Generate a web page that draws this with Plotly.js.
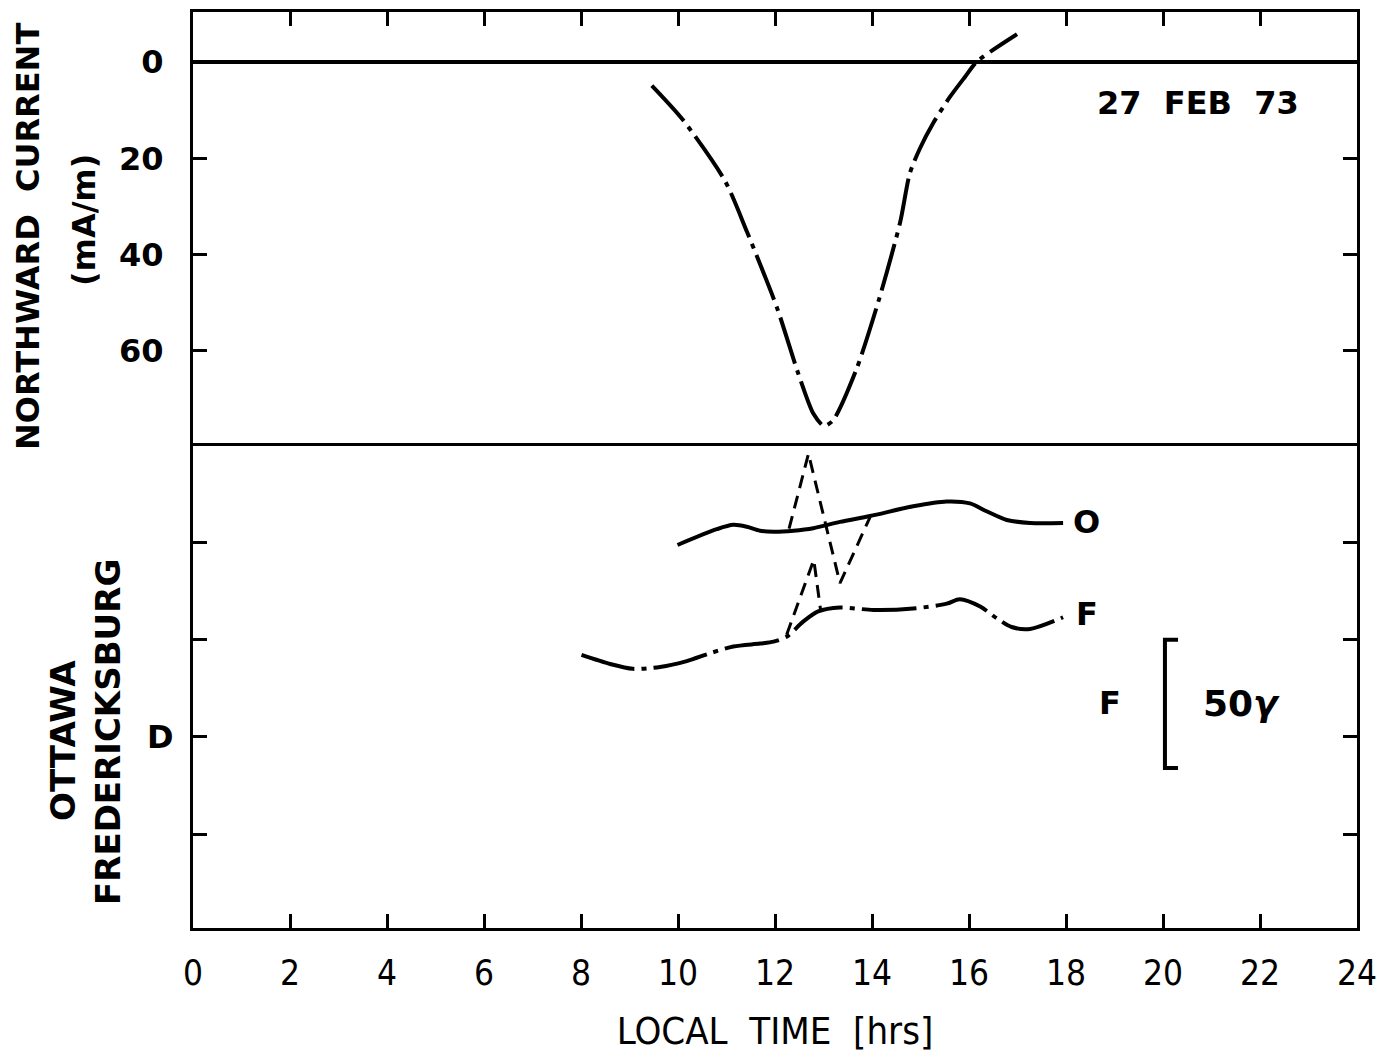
<!DOCTYPE html>
<html>
<head>
<meta charset="utf-8">
<script src="https://cdn.plot.ly/plotly-3.0.1.min.js"></script>
<style>html,body{margin:0;padding:0;background:#fff;}#chart{width:1380px;height:1053px;}</style>
</head>
<body>
<div id="chart"></div>
<script>
// ---- Data ----
// Top panel: northward current (mA/m), local time (hrs)
const currentTime = [9.46, 10.10, 10.97, 11.42, 12.04, 12.48, 12.79, 13.01, 13.20, 13.68, 14.15, 14.58, 14.78, 14.99, 15.26, 15.61, 15.92, 16.16, 16.99];
const currentVal  = [4.9, 12.0, 24.7, 35.2, 51.0, 64.7, 73.0, 75.6, 74.4, 63.8, 49.1, 33.3, 23.1, 17.9, 12.7, 7.2, 3.05, -0.06, -5.8];

// Bottom panel: D component traces (relative units, 1 unit = one tick interval)
const ottawaTime = [9.99, 10.80, 11.14, 11.42, 11.69, 11.97, 12.38, 12.79, 13.34, 13.96, 14.85, 15.54, 16.02, 16.36, 16.78, 17.26, 17.94];
const ottawaD    = [1.973, 2.135, 2.18, 2.16, 2.12, 2.11, 2.12, 2.145, 2.21, 2.27, 2.37, 2.42, 2.40, 2.32, 2.23, 2.20, 2.20];

const fredTime = [8.01, 8.60, 9.07, 9.63, 10.18, 10.66, 11.14, 11.69, 11.97, 12.24, 12.58, 12.89, 13.34, 14.03, 14.85, 15.54, 15.81, 16.23, 16.57, 16.88, 17.26, 17.94];
const fredD    = [0.843, 0.75, 0.70, 0.72, 0.78, 0.86, 0.93, 0.96, 0.98, 1.03, 1.185, 1.29, 1.33, 1.305, 1.32, 1.37, 1.415, 1.34, 1.22, 1.13, 1.11, 1.23];

// Dashed excursions
const ottawaSpikeTime = [12.29, 12.69, 13.34, 13.96];
const ottawaSpikeD    = [2.14, 2.91, 1.58, 2.26];
const fredSpikeTime = [12.24, 12.80, 12.94];
const fredSpikeD    = [1.05, 1.82, 1.305];

// 50 gamma scale bar
const scaleBarX = [20.31, 20.04, 20.04, 20.31];
const scaleBarY = [1.0, 1.0, -0.32, -0.32];

// Axis ticks
const timeTicks = [0, 2, 4, 6, 8, 10, 12, 14, 16, 18, 20, 22, 24];
const currentTicks = [0, 20, 40, 60];
const dTicks = [-1, 0, 1, 2];
const dTickText = ['', 'D', '', ''];

// ---- Styling ----
const FONT = 'DejaVu Sans, Verdana, sans-serif';
const NARROW = 'Liberation Sans Narrow, DejaVu Sans Condensed, Liberation Sans, sans-serif';
const BLACK = '#000';

const traces = [
  {x: currentTime, y: currentVal, xaxis: 'x2', yaxis: 'y2', mode: 'lines',
   line: {color: BLACK, width: 4, shape: 'spline', smoothing: 0.7, dash: '48px,7px,5px,7px'}},
  {x: ottawaTime, y: ottawaD, xaxis: 'x', yaxis: 'y', mode: 'lines',
   line: {color: BLACK, width: 4, shape: 'spline', smoothing: 0.8}},
  {x: fredTime, y: fredD, xaxis: 'x', yaxis: 'y', mode: 'lines',
   line: {color: BLACK, width: 4, shape: 'spline', smoothing: 0.8, dash: '55px,7px,5px,7px'}},
  {x: ottawaSpikeTime, y: ottawaSpikeD, xaxis: 'x', yaxis: 'y', mode: 'lines',
   line: {color: BLACK, width: 3, dash: '13px,8px'}},
  {x: fredSpikeTime, y: fredSpikeD, xaxis: 'x', yaxis: 'y', mode: 'lines',
   line: {color: BLACK, width: 3, dash: '13px,8px'}},
  {x: scaleBarX, y: scaleBarY, xaxis: 'x', yaxis: 'y', mode: 'lines',
   line: {color: BLACK, width: 4}}
];

const SPLIT = 0.5262;
const LBL = {family: FONT, size: 32, color: BLACK, weight: 'bold'};

const layout = {
  width: 1380, height: 1053,
  margin: {l: 193, r: 23, t: 12, b: 125},
  paper_bgcolor: '#fff', plot_bgcolor: '#fff',
  showlegend: false,
  font: {family: FONT, color: BLACK, size: 28},
  xaxis: {
    domain: [0, 1], range: [0, 24], anchor: 'y',
    tickvals: timeTicks, ticktext: timeTicks.map(String),
    ticks: 'inside', ticklen: 14, tickwidth: 3, tickcolor: BLACK,
    showline: true, linewidth: 3, linecolor: BLACK, mirror: true,
    showgrid: false, zeroline: false,
    tickfont: {family: NARROW, size: 35, color: BLACK},
    ticklabelstandoff: 12,
    title: {text: 'LOCAL  TIME  [hrs]', font: {family: NARROW, size: 38, color: BLACK}, standoff: 30}
  },
  xaxis2: {
    domain: [0, 1], range: [0, 24], anchor: 'y2', side: 'top',
    tickvals: timeTicks, showticklabels: false,
    ticks: 'inside', ticklen: 14, tickwidth: 3, tickcolor: BLACK,
    showline: true, linewidth: 3, linecolor: BLACK, mirror: false,
    showgrid: false, zeroline: false
  },
  yaxis: {
    domain: [0, SPLIT], range: [-1.963, 2.99], anchor: 'x',
    tickvals: dTicks, ticktext: dTickText,
    ticks: 'inside', ticklen: 14, tickwidth: 3, tickcolor: BLACK,
    showline: true, linewidth: 3, linecolor: BLACK, mirror: 'ticks',
    showgrid: false, zeroline: false,
    tickfont: {family: FONT, size: 32, color: BLACK, weight: 'bold'},
    ticklabelstandoff: 10
  },
  yaxis2: {
    domain: [SPLIT, 1], range: [79.75, -10.4], anchor: 'x2',
    tickvals: currentTicks, ticktext: currentTicks.map(String),
    ticks: 'inside', ticklen: 14, tickwidth: 3, tickcolor: BLACK,
    showline: true, linewidth: 3, linecolor: BLACK, mirror: 'ticks',
    showgrid: false, zeroline: true, zerolinewidth: 3.5, zerolinecolor: BLACK,
    tickfont: {family: FONT, size: 32, color: BLACK, weight: 'bold'},
    ticklabelstandoff: 20
  },
  annotations: [
    {text: 'NORTHWARD  CURRENT', xref: 'paper', yref: 'paper', x: -0.1418, y: 0.7555,
     textangle: -90, showarrow: false, xanchor: 'center', yanchor: 'middle', font: LBL},
    {text: '(mA/m)', xref: 'paper', yref: 'paper', x: -0.0936, y: 0.7729,
     textangle: -90, showarrow: false, xanchor: 'center', yanchor: 'middle', font: LBL},
    {text: 'OTTAWA', xref: 'paper', yref: 'paper', x: -0.1117, y: 0.2052,
     textangle: -90, showarrow: false, xanchor: 'center', yanchor: 'middle',
     font: {family: FONT, size: 34, color: BLACK, weight: 'bold'}},
    {text: 'FREDERICKSBURG', xref: 'paper', yref: 'paper', x: -0.0730, y: 0.2140,
     textangle: -90, showarrow: false, xanchor: 'center', yanchor: 'middle',
     font: {family: FONT, size: 34, color: BLACK, weight: 'bold'}},
    {text: '27  FEB  73', xref: 'x2', yref: 'y2', x: 20.72, y: 8.5,
     showarrow: false, xanchor: 'center', yanchor: 'middle', font: LBL},
    {text: 'O', xref: 'x', yref: 'y', x: 18.43, y: 2.21,
     showarrow: false, xanchor: 'center', yanchor: 'middle', font: LBL},
    {text: 'F', xref: 'x', yref: 'y', x: 18.43, y: 1.264,
     showarrow: false, xanchor: 'center', yanchor: 'middle', font: LBL},
    {text: 'F', xref: 'x', yref: 'y', x: 18.91, y: 0.349,
     showarrow: false, xanchor: 'center', yanchor: 'middle', font: LBL},
    {text: '50<i>γ</i>', xref: 'x', yref: 'y', x: 21.61, y: 0.349,
     showarrow: false, xanchor: 'center', yanchor: 'middle',
     font: {family: FONT, size: 36, color: BLACK, weight: 'bold'}}
  ]
};

Plotly.newPlot('chart', traces, layout, {staticPlot: true, displayModeBar: false});
</script>
</body>
</html>
